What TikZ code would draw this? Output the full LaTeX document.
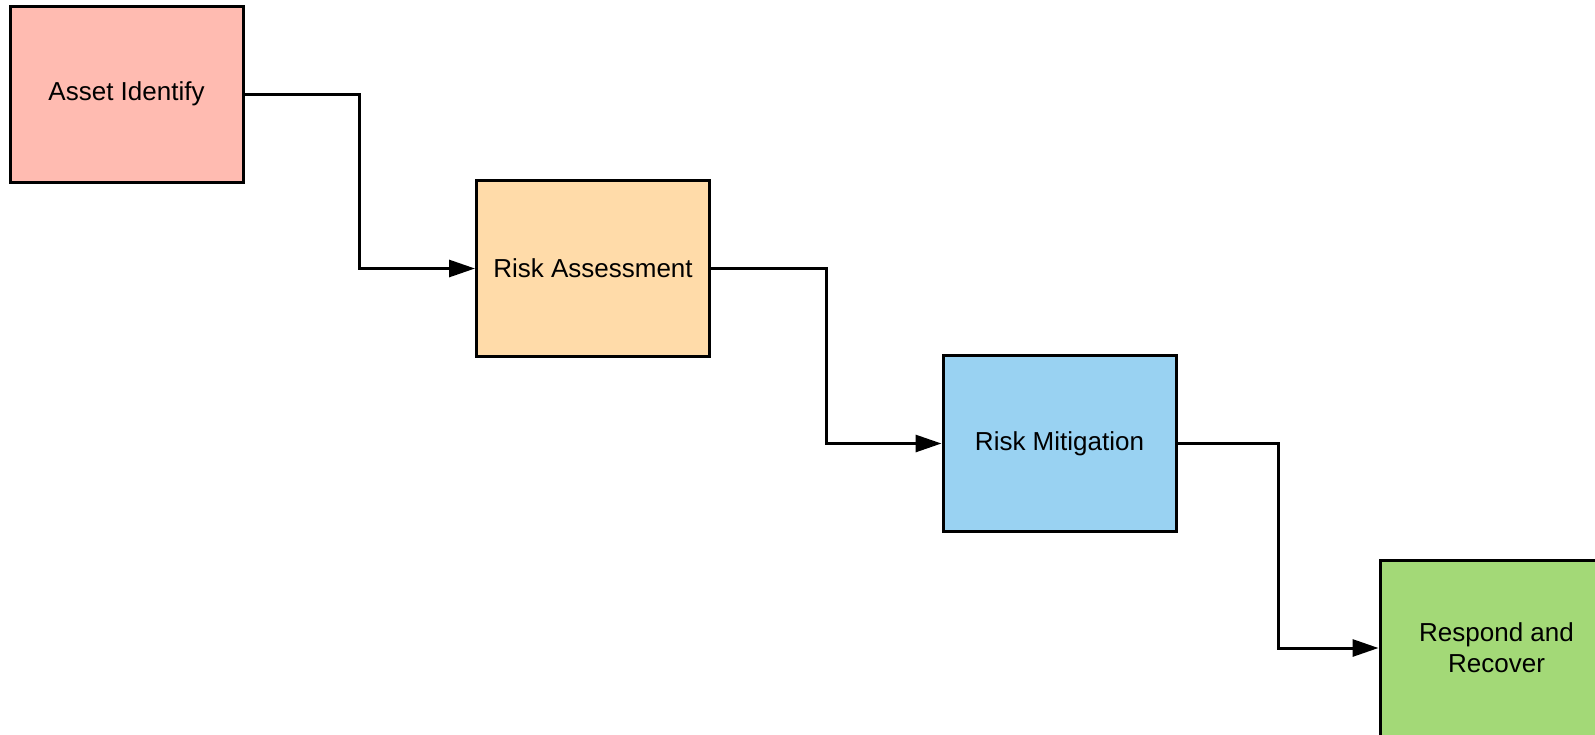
\documentclass[tikz,border=0pt]{standalone}
\usepackage{fontspec}
\setmainfont{Liberation Sans}
\usetikzlibrary{arrows.meta, calc}

\definecolor{assetred}{HTML}{FFBBB1}
\definecolor{assessorange}{HTML}{FFDBA9}
\definecolor{mitigblue}{HTML}{99D2F2}
\definecolor{respondgreen}{HTML}{A3D977}

\tikzset{
    stage/.style={draw=black, line width=3pt, minimum width=233pt, minimum height=176pt,
        inner sep=0pt, align=center, font=\fontsize{26}{31}\selectfont},
    flow/.style={line width=3pt, -{Triangle[length=26pt, width=17pt]}}
}

\begin{document}
\begin{tikzpicture}[x=1pt, y=-1pt]
    \useasboundingbox (0, 0) rectangle (1595, 734);
    % stages
    \node[stage, fill=assetred]     (asset)   at (126.5, 94)   {Asset Identify};
    \node[stage, fill=assessorange] (assess)  at (593, 268.5)  {Risk Assessment};
    \node[stage, fill=mitigblue]    (mitig)   at (1059.5, 443.5) {Risk Mitigation};
    \node[stage, fill=respondgreen] (respond) at (1496.5, 648) {Respond and\\Recover};

    % elbow connectors
    \coordinate (m1) at ($(asset.east)!0.5!(assess.west)$);
    \coordinate (m2) at ($(assess.east)!0.5!(mitig.west)$);
    \coordinate (m3) at ($(mitig.east)!0.5!(respond.west)$);
    \draw[flow] (asset.east)  -| (m1) |- (assess.west);
    \draw[flow] (assess.east) -| (m2) |- (mitig.west);
    \draw[flow] (mitig.east)  -| (m3) |- (respond.west);
\end{tikzpicture}
\end{document}
